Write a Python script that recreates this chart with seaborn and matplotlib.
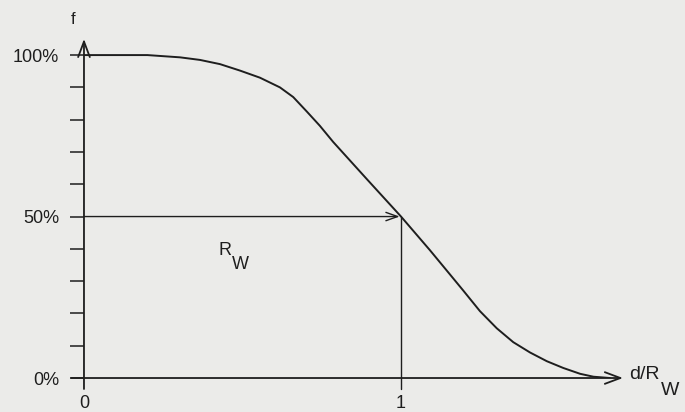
import numpy as np
import pandas as pd
import matplotlib
matplotlib.use('Agg')
import matplotlib.pyplot as plt
import seaborn as sns

# curve values (x = d/R_W, y = f in %)
d_ratio = [0, 0.2, 0.303, 0.366, 0.429, 0.492, 0.555, 0.618, 0.66, 0.703,
           0.744, 0.786, 0.893, 1.0, 1.091, 1.155, 1.197, 1.249, 1.302,
           1.354, 1.407, 1.46, 1.512, 1.565, 1.607, 1.659]
f_pct = [100, 100, 99.3, 98.5, 97.2, 95.2, 93.0, 90.0, 87.0, 82.5,
         78.1, 73.1, 61.5, 50, 39.6, 32.0, 27.0, 20.7, 15.4,
         11.1, 7.9, 5.2, 3.1, 1.3, 0.4, 0]

y_ticks = [0, 10, 20, 30, 40, 50, 60, 70, 80, 90, 100]
y_ticklabels = ['0%', '', '', '', '', '50%', '', '', '', '', '100%']
x_ticks = [0, 1]
x_ticklabels = ['0', '1']
half_x, half_y = 1.0, 50

sns.set_style('white')
plt.rcParams['font.family'] = ['Liberation Sans', 'DejaVu Sans']

paper = '#ebebe9'
ink = '#1e1e1e'

fig = plt.figure(figsize=(6.85, 4.12), dpi=100, facecolor=paper)
ax = fig.add_axes([0.1226, 0.0825, 0.797, 0.823])
ax.set_facecolor(paper)

df = pd.DataFrame({'d': d_ratio, 'f': f_pct})
sns.lineplot(data=df, x='d', y='f', ax=ax, color=ink, linewidth=1.4,
             sort=False, estimator=None)
for ln in ax.lines:
    ln.set_solid_joinstyle('round')

ax.set_xlim(0, 1.722)
ax.set_ylim(0, 105)
for s in ax.spines.values():
    s.set_visible(False)

# axes drawn as arrows
arrow_kw = dict(arrowstyle='->, head_length=0.8, head_width=0.3', lw=1.3,
                color=ink, shrinkA=0, shrinkB=0, mutation_scale=14)
ax.annotate('', xy=(1.70, 0), xytext=(-0.04, 0), arrowprops=arrow_kw,
            annotation_clip=False)
ax.annotate('', xy=(0, 105), xytext=(0, -3.4), arrowprops=arrow_kw,
            annotation_clip=False)

# R_W guide lines
ax.annotate('', xy=(half_x, half_y), xytext=(0, half_y),
            arrowprops=dict(arrowstyle='->, head_length=0.7, head_width=0.25',
                            lw=1.0, color=ink, shrinkA=0, shrinkB=1,
                            mutation_scale=12))
ax.plot([half_x, half_x], [-3.4, half_y], color=ink, lw=1.0, clip_on=False)

ax.set_yticks(y_ticks)
ax.set_yticklabels(y_ticklabels)
ax.set_xticks(x_ticks)
ax.set_xticklabels(x_ticklabels)
ax.tick_params(axis='y', direction='out', length=10, width=1.1, color=ink,
               labelsize=13, labelcolor=ink, pad=8, left=True)
ax.tick_params(axis='x', length=0, labelsize=13, labelcolor=ink, pad=12)
ax.set_xlabel('')
ax.set_ylabel('')

# labels
ax.text(-0.035, 111, 'f', fontsize=12, color=ink, ha='center', va='center')
ax.text(1.72, 1.0, 'd/R', fontsize=14, color=ink, ha='left', va='center',
        clip_on=False)
ax.text(1.82, -4.0, 'W', fontsize=14, color=ink, ha='left', va='center',
        clip_on=False)
ax.text(0.423, 39.5, 'R', fontsize=13, color=ink, ha='left', va='center')
ax.text(0.466, 35.0, 'W', fontsize=13, color=ink, ha='left', va='center')

fig.savefig('out.png', dpi=100, facecolor=paper)
